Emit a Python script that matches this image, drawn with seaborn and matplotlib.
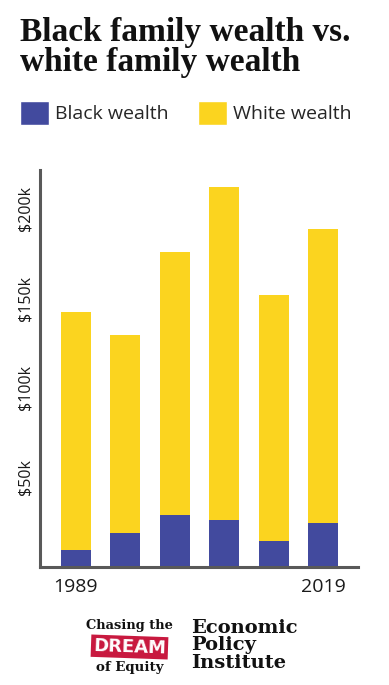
import pandas as pd
import numpy as np
import matplotlib.pyplot as plt
import seaborn as sns
from matplotlib.patches import Patch

# median family wealth, thousands of dollars
years = ["1989", "1995", "2001", "2007", "2013", "2019"]
white_wealth = [142.5, 129.5, 176, 212, 152, 188.5]
black_wealth = [9.3, 19, 29, 26, 14.5, 24.6]
shown_years = ["1989", "", "", "", "", "2019"]
yticks = [50, 100, 150, 200]
ytick_labels = ["$50k", "$100k", "$150k", "$200k"]

BLUE = "#424a9e"
YELLOW = "#fbd41f"
AXIS = "#595959"

df = pd.DataFrame({"year": years, "white": white_wealth, "black": black_wealth})

sns.set_style("white")
plt.rcParams['font.family'] = ['Open Sans', 'DejaVu Sans']

fig = plt.figure(figsize=(3.89, 6.85), dpi=100)
ax = fig.add_axes([39.5 / 389, 1 - 566.7 / 685, (358 - 39.5) / 389, (566.7 - 170) / 685])

sns.barplot(data=df, x="year", y="white", color=YELLOW, saturation=1,
            width=0.6, errorbar=None, linewidth=0, ax=ax)
sns.barplot(data=df, x="year", y="black", color=BLUE, saturation=1,
            width=0.6, errorbar=None, linewidth=0, ax=ax)

ax.set_xlim(-0.73, 5.70)
ax.set_ylim(0, 221.6)
ax.set_xticks(range(len(years)))
ax.set_xticklabels(shown_years, fontsize=14, color="#1a1a1a")
ax.set_yticks(yticks)
ax.set_yticklabels(ytick_labels, rotation=90, va="center", fontsize=11.5, color="#1a1a1a")
ax.tick_params(axis="both", length=0)
ax.tick_params(axis="y", pad=4)
ax.tick_params(axis="x", pad=8)
ax.set_xlabel("")
ax.set_ylabel("")

sns.despine(ax=ax)
for side in ["left", "bottom"]:
    ax.spines[side].set_color(AXIS)
    ax.spines[side].set_linewidth(2.2)

# title
fig.text(20 / 389, 1 - 17 / 685, "Black family wealth vs.\nwhite family wealth",
         fontsize=24, fontweight="bold", family="Liberation Serif",
         va="top", ha="left", linespacing=0.95, color="#111111")

# legend
handles = [Patch(facecolor=BLUE), Patch(facecolor=YELLOW)]
fig.legend(handles, ["Black wealth", "White wealth"], ncol=2, frameon=False,
           loc="upper left", bbox_to_anchor=(20 / 389, 1 - 101 / 685),
           borderpad=0, borderaxespad=0, fontsize=14,
           handlelength=1.5, handleheight=1.5, handletextpad=0.3,
           columnspacing=1.5)

# footer logos
fig.text(129.5 / 389, 1 - 625 / 685, "Chasing the", family="DejaVu Serif",
         fontweight="bold", fontsize=9.4, ha="center", va="center", color="#111111")
fig.text(129.5 / 389, 1 - 647 / 685, "DREAM", family="DejaVu Sans",
         fontweight="bold", fontsize=13, ha="center", va="center", color="white",
         rotation=-2,
         bbox=dict(boxstyle="square,pad=0.12", facecolor="#c8193f", edgecolor="none"))
fig.text(129.5 / 389, 1 - 667 / 685, "of Equity", family="DejaVu Serif",
         fontweight="bold", fontsize=9.6, ha="center", va="center", color="#111111")
fig.text(191 / 389, 1 - 619 / 685, "Economic\nPolicy\nInstitute", family="DejaVu Serif",
         fontweight="bold", fontsize=14, ha="left", va="top", linespacing=0.95,
         color="#111111")

fig.savefig("out.png", dpi=100)
